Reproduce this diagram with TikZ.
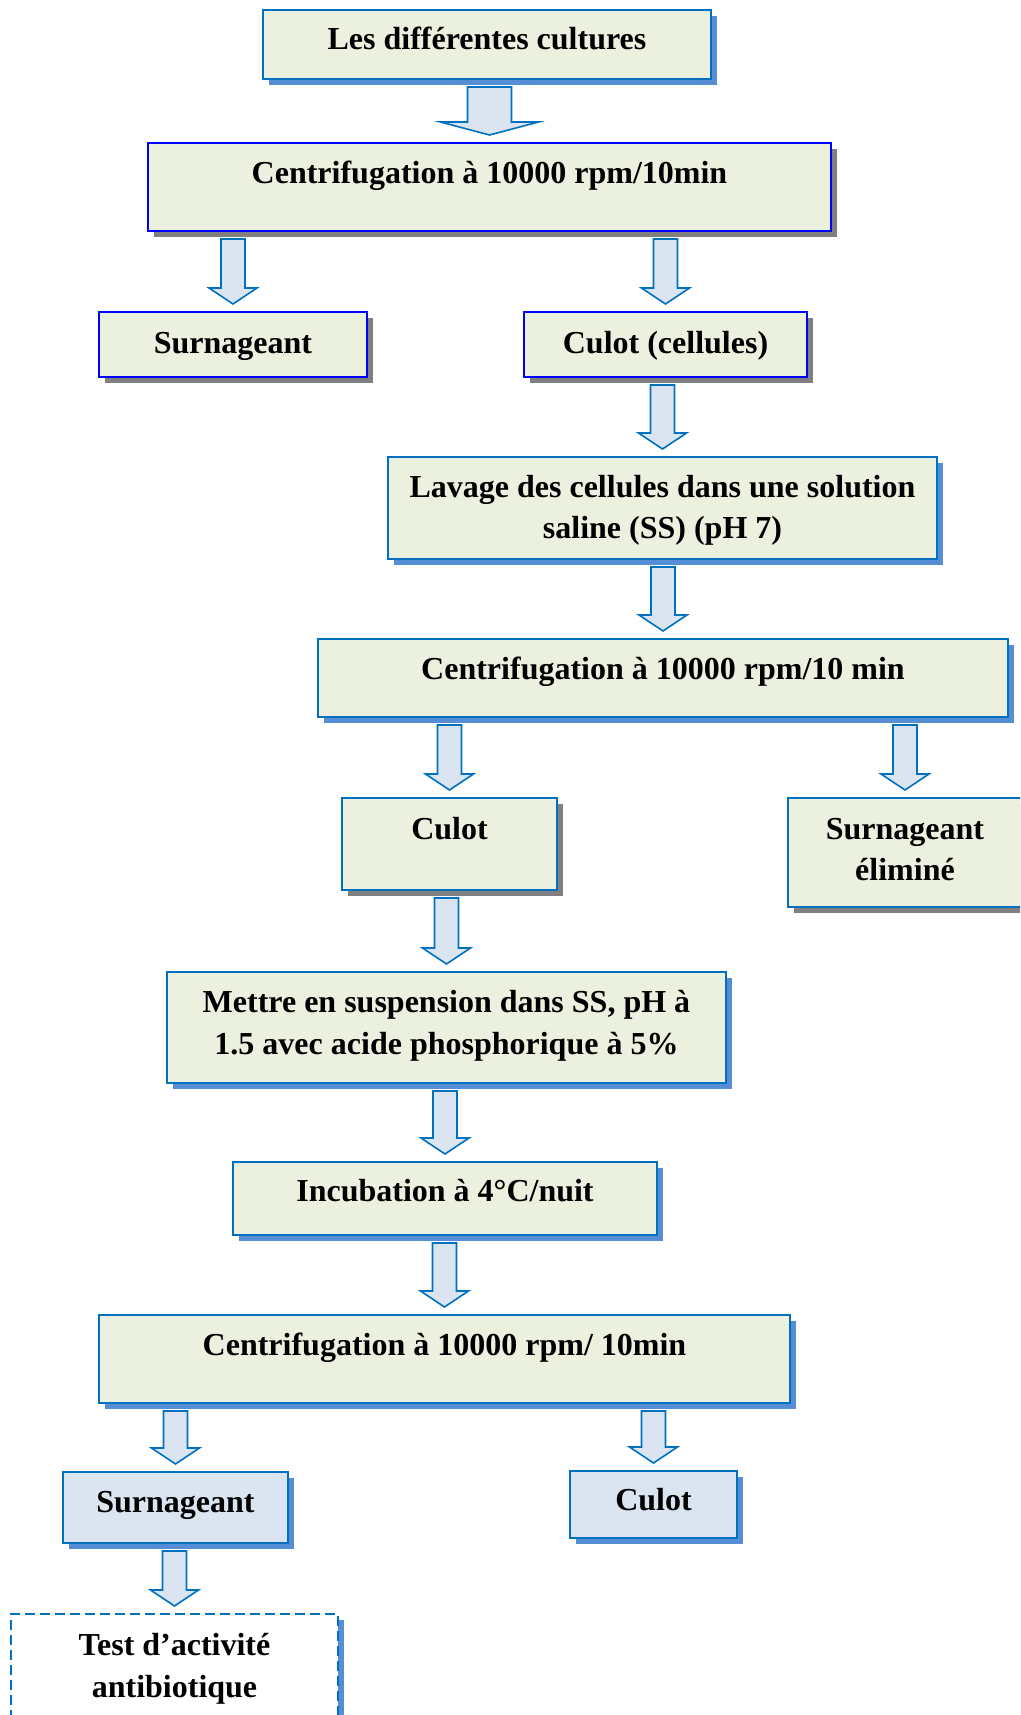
\documentclass[tikz,border=0pt]{standalone}
\usepackage{fontspec}
\setmainfont{Liberation Serif}
\usetikzlibrary{calc,shadows}
\definecolor{bordblue}{HTML}{0070C0}
\definecolor{brightblue}{HTML}{0000FF}
\definecolor{shblue}{HTML}{558ED5}
\definecolor{shgrey}{HTML}{808080}
\definecolor{boxgreen}{HTML}{EBF1DE}
\definecolor{boxblue}{HTML}{DBE5F1}
\tikzset{
  box/.style={draw=bordblue, line width=2pt, fill=boxgreen, inner sep=0pt, outer sep=0pt, anchor=north west},
  brightbox/.style={box, draw=brightblue},
  lightbox/.style={box, fill=boxblue},
  dashbox/.style={box, fill=white, dash pattern=on 10pt off 5pt},
  blueshadow/.style={drop shadow={fill=shblue, opacity=1, shadow xshift=6pt, shadow yshift=-6pt}},
  greyshadow/.style={drop shadow={fill=shgrey, opacity=1, shadow xshift=6pt, shadow yshift=-6pt}},
  txt/.style={font=\fontsize{32}{41.5}\selectfont\bfseries, align=center, anchor=base, inner sep=0pt},
  flowarrow/.style={draw=bordblue, fill=boxblue, line width=1.6pt, line join=miter},
}
% from, to, shaft half width, head half width, head length
\newcommand{\blockarrow}[5]{%
  \draw[flowarrow] let \p1=(#1.south), \p2=(#2.north) in
    (\x2-#3pt,\y1-8pt) -- (\x2-#3pt,\y2+8pt+#5pt) -- (\x2-#4pt,\y2+8pt+#5pt) --
    (\x2,\y2+8pt) -- (\x2+#4pt,\y2+8pt+#5pt) -- (\x2+#3pt,\y2+8pt+#5pt) --
    (\x2+#3pt,\y1-8pt) -- cycle;}
\begin{document}
\begin{tikzpicture}[x=1pt,y=1pt]
\path[use as bounding box, clip] (0,0) rectangle (1020,-1715);
\fill[white] (0,0) rectangle (1020,-1715);

% boxes
\node[box, blueshadow, minimum width=448pt, minimum height=69pt] (b1) at (263,-10) {};
\node[brightbox, greyshadow, minimum width=683pt, minimum height=88pt] (b2) at (148,-143) {};
\node[brightbox, greyshadow, minimum width=268pt, minimum height=65pt] (b3) at (99,-312) {};
\node[brightbox, greyshadow, minimum width=283pt, minimum height=65pt] (b4) at (524,-312) {};
\node[box, blueshadow, minimum width=549pt, minimum height=102pt] (b5) at (388,-457) {};
\node[box, blueshadow, minimum width=690pt, minimum height=78pt] (b6) at (318,-639) {};
\node[box, greyshadow, minimum width=215pt, minimum height=92pt] (b7) at (342,-798) {};
\node[box, greyshadow, minimum width=234pt, minimum height=109pt] (b8) at (788,-798) {};
\node[box, blueshadow, minimum width=559pt, minimum height=111pt] (b9) at (167,-972) {};
\node[box, blueshadow, minimum width=424pt, minimum height=73pt] (b10) at (233,-1162) {};
\node[box, blueshadow, minimum width=691pt, minimum height=88pt] (b11) at (99,-1315) {};
\node[lightbox, blueshadow, minimum width=225pt, minimum height=71pt] (b12) at (63,-1472) {};
\node[lightbox, blueshadow, minimum width=167pt, minimum height=67pt] (b13) at (570,-1471) {};
\node[dashbox, blueshadow, minimum width=327pt, minimum height=120pt] (b14) at (11,-1614) {};

% texts (anchor = baseline of the last line)
\node[txt] (t1) at ($(b1.north)+(0,-40)$) {Les différentes cultures};
\node[txt] (t2) at ($(b2.north)+(0,-41)$) {Centrifugation à 10000 rpm/10min};
\node[txt] (t3) at ($(b3.north)+(0,-41)$) {Surnageant};
\node[txt] (t4) at ($(b4.north)+(0,-41)$) {Culot (cellules)};
\node[txt] (t5) at ($(b5.north)+(0,-81.5)$) {Lavage des cellules dans une solution\\saline (SS) (pH 7)};
\node[txt] (t6) at ($(b6.north)+(0,-40)$) {Centrifugation à 10000 rpm/10 min};
\node[txt] (t7) at ($(b7.north)+(0,-41)$) {Culot};
\node[txt] (t8) at ($(b8.north)+(0,-82.5)$) {Surnageant\\éliminé};
\node[txt] (t9) at ($(b9.north)+(0,-82)$) {Mettre en suspension dans SS, pH à\\1.5 avec acide phosphorique à 5\%};
\node[txt] (t10) at ($(b10.north)+(0,-39)$) {Incubation à 4°C/nuit};
\node[txt] (t11) at ($(b11.north)+(0,-40)$) {Centrifugation à 10000 rpm/ 10min};
\node[txt] (t12) at ($(b12.north)+(0,-40)$) {Surnageant};
\node[txt] (t13) at ($(b13.north)+(0,-39)$) {Culot};
\node[txt] (t14) at ($(b14.north)+(0,-83)$) {Test d’activité\\antibiotique};

% arrows
\blockarrow{b1}{b2}{22}{49}{13}
\blockarrow{b2}{b3}{12}{24}{16}
\blockarrow{b2}{b4}{12}{24}{16}
\blockarrow{b4}{b5}{12}{24}{16}
\blockarrow{b5}{b6}{12}{24}{16}
\blockarrow{b6}{b7}{12}{24}{16}
\blockarrow{b6}{b8}{12}{24}{16}
\blockarrow{b7}{b9}{12}{24}{16}
\blockarrow{b9}{b10}{12}{24}{16}
\blockarrow{b10}{b11}{12}{24}{16}
\blockarrow{b11}{b12}{12}{24}{16}
\blockarrow{b11}{b13}{12}{24}{16}
\blockarrow{b12}{b14}{12}{24}{16}
\end{tikzpicture}
\end{document}
